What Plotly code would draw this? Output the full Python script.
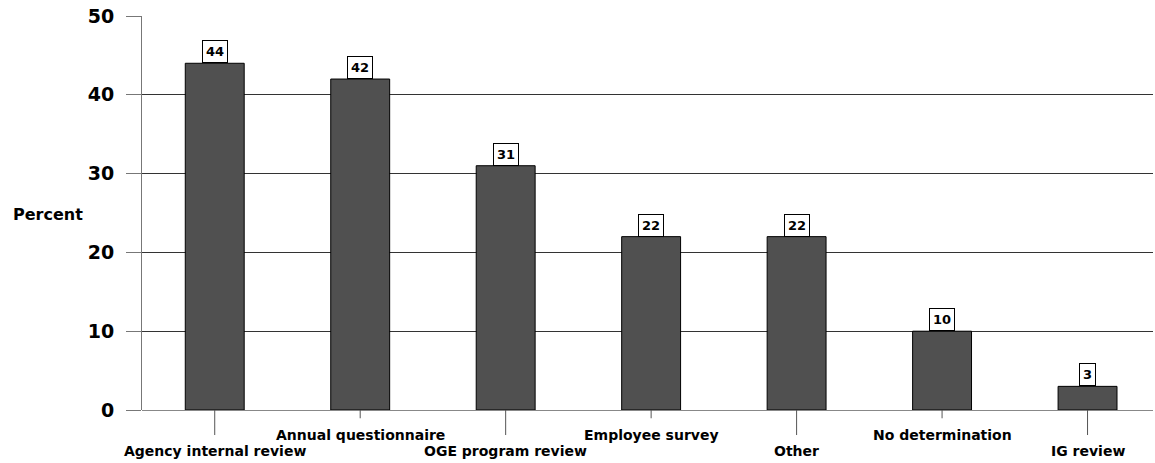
import plotly.graph_objects as go

categories = ["Agency internal review", "Annual questionnaire", "OGE program review",
              "Employee survey", "Other", "No determination", "IG review"]
values = [44, 42, 31, 22, 22, 10, 3]
y_ticks = [0, 10, 20, 30, 40, 50]

FONT = "DejaVu Sans"
xs = list(range(len(categories)))

fig = go.Figure()
fig.add_trace(go.Bar(
    x=xs, y=values, width=0.405,
    marker=dict(color="#505050", line=dict(color="#000000", width=1)),
    hoverinfo="skip",
))

annotations = []
shapes = []
for i, (c, v) in enumerate(zip(categories, values)):
    # value boxes
    annotations.append(dict(
        x=i, y=v, xref="x", yref="y", text=f"<b>{v}</b>", showarrow=False,
        yanchor="bottom", xanchor="center",
        font=dict(family=FONT, size=13, color="#000"),
        bgcolor="#ffffff", bordercolor="#000000", borderwidth=1, borderpad=3,
    ))
    long_row = (i % 2 == 0)
    tick_end = -0.0635 if long_row else -0.021
    shapes.append(dict(type="line", xref="x", yref="paper", x0=i, x1=i,
                       y0=0, y1=tick_end, line=dict(color="#555", width=1)))
    annotations.append(dict(
        x=i, y=-0.104 if long_row else -0.063, xref="x", yref="paper",
        text=f"<b>{c}</b>", showarrow=False, xanchor="center", yanchor="middle",
        font=dict(family=FONT, size=14, color="#000"),
    ))

annotations.append(dict(
    x=-0.093, y=24.8, xref="paper", yref="y", text="<b>Percent</b>", showarrow=False,
    xanchor="center", yanchor="middle", font=dict(family=FONT, size=16, color="#000"),
))

fig.update_layout(
    width=1155, height=463,
    margin=dict(l=142, r=2, t=16, b=53),
    paper_bgcolor="white", plot_bgcolor="white",
    showlegend=False,
    annotations=annotations, shapes=shapes,
    xaxis=dict(range=[-0.5, 6.45], showticklabels=False, ticks="", showgrid=False,
               zeroline=False, showline=False, fixedrange=True),
    yaxis=dict(range=[0, 50], tickvals=y_ticks, ticktext=[f"<b>{t}</b>" for t in y_ticks],
               tickfont=dict(family=FONT, size=19, color="#000"),
               ticks="outside", ticklen=15, tickcolor="#777", tickwidth=1,
               showgrid=True, gridcolor="#333", gridwidth=1,
               showline=True, linecolor="#777", linewidth=1,
               zeroline=True, zerolinecolor="#888", zerolinewidth=1,
               ticklabelstandoff=8),
)

fig.write_html("out.html")
